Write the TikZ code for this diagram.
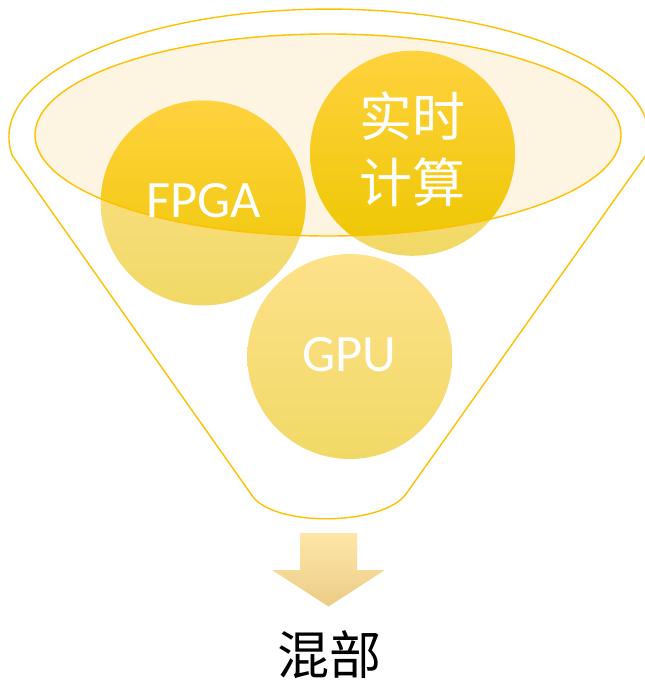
\documentclass[tikz,border=0pt]{standalone}
\usepackage{fontspec}
\newfontfamily\latinfont{Carlito}
\newfontfamily\cjk{Noto Sans CJK SC}
\definecolor{rim}{HTML}{FFC000}
\definecolor{cream}{HTML}{FDF4E2}
% deep gold, used where a ball sits in the funnel mouth
\definecolor{goldtop}{HTML}{FFD23E}
\definecolor{goldmid}{HTML}{FFD200}
\definecolor{goldbot}{HTML}{ECC700}
% pale gold, used below the mouth
\definecolor{paletop}{HTML}{FEE18A}
\definecolor{palemid}{HTML}{FEE066}
\definecolor{palebot}{HTML}{F1D966}
\definecolor{arrowtop}{HTML}{FFE6A8}
\definecolor{arrowbot}{HTML}{EBCC86}
\tikzset{
  ball/.style={circle, minimum size=205pt, inner sep=0pt, draw=none,
    top color=paletop, middle color=palemid, bottom color=palebot},
  deepball/.style={top color=goldtop, middle color=goldmid, bottom color=goldbot},
  rimline/.style={draw=rim, line width=1.4pt},
  latinlabel/.style={text=white, font=\latinfont\fontsize{52.5}{60}\selectfont, inner sep=0pt},
  cjklabel/.style={text=white, font=\cjk\fontsize{53}{66}\selectfont, align=center, inner sep=0pt},
}
\begin{document}
\begin{tikzpicture}[x=1pt, y=-1pt]
\useasboundingbox (0,0) rectangle (644,684);

% funnel body: upper rim arc, two sides, rounded spout
\draw[rimline, line join=round]
  (12.5,156) arc[start angle=188.5, end angle=-8.5, x radius=320pt, y radius=128pt]
  -- (406.7,493)
  .. controls (385,526) and (273,528) .. (251.7,495)
  -- cycle;

% funnel mouth
\coordinate (mouth) at (328,135);
\fill[cream] (mouth) ellipse[x radius=293pt, y radius=101pt];

% the three balls
\node[ball] (fpga) at (203.2,203) {};
\node[ball] (rt) at (412.5,153.3) {};
\node[ball] (gpu) at (349.8,356.5) {};

% deeper tone inside the mouth
\begin{scope}
  \clip (mouth) ellipse[x radius=293pt, y radius=101pt];
  \shade[deepball] (fpga.center) circle[radius=102.5pt];
  \shade[deepball] (rt.center) circle[radius=102.5pt];
\end{scope}

\draw[rimline] (mouth) ellipse[x radius=293pt, y radius=101pt];

% labels
\node[latinlabel, anchor=base] (fpgatext) at (204,217.3) {FPGA};
\node[latinlabel, anchor=base] (gputext) at (349.2,371.7) {GPU};
\node[cjklabel] (rttext) at (412.5,149) {实时\\计算};

% outlet arrow
\shade[top color=arrowtop, bottom color=arrowbot]
  (300,533) -- (357,533) -- (357,570) -- (385,570) -- (328.5,606.5)
  -- (272,570) -- (300,570) -- cycle;

\node[font=\cjk\fontsize{52}{58}\selectfont, text=black, inner sep=0pt] (hunbu) at (329,655) {混部};
\end{tikzpicture}
\end{document}
